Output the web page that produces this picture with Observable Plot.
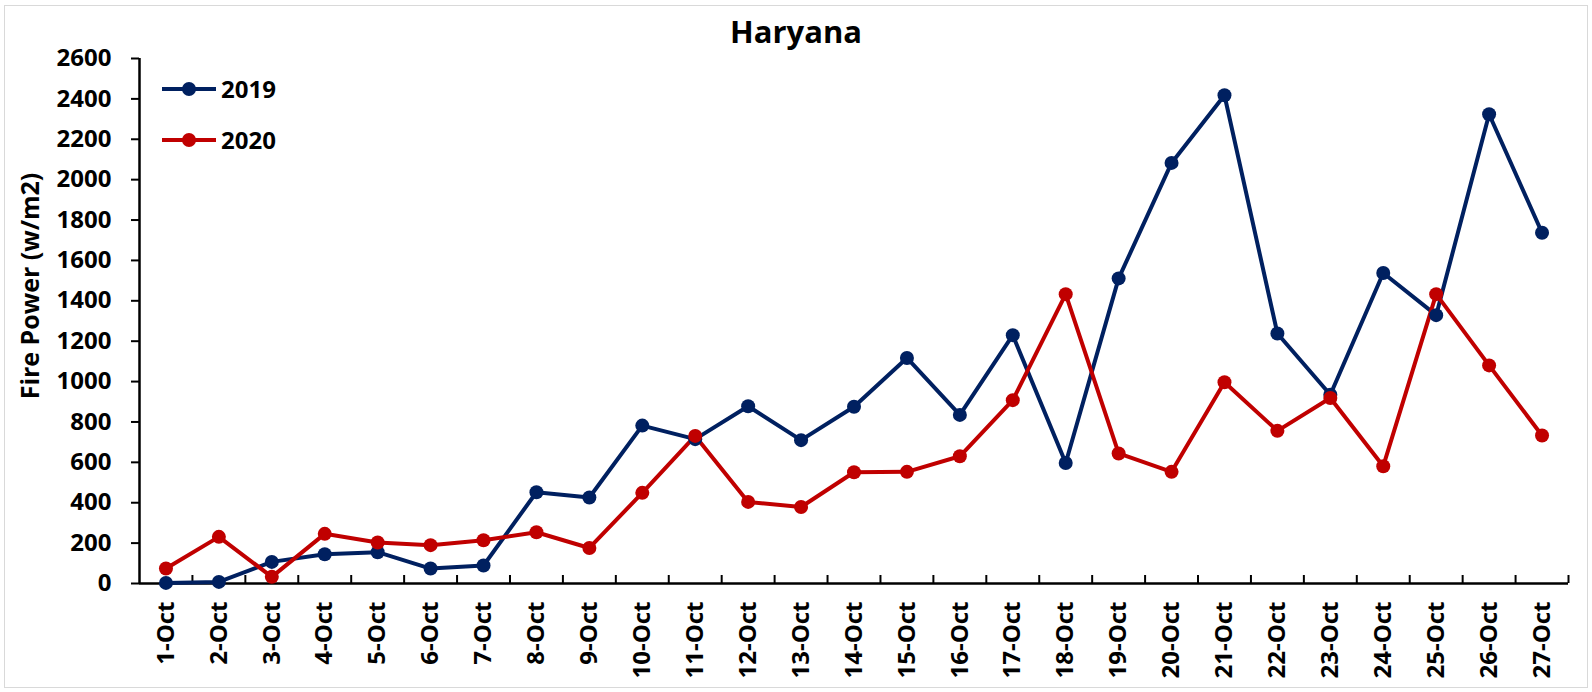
<!DOCTYPE html>
<html><head><meta charset="utf-8">
<script src="https://cdn.jsdelivr.net/npm/d3@7"></script>
<script src="https://cdn.jsdelivr.net/npm/@observablehq/plot@0.6"></script>
<style>
body{margin:0;background:#fff;font-family:"Open Sans",Lato,sans-serif;}
#wrap{position:relative;width:1592px;height:692px;overflow:hidden;}
#frame{position:absolute;left:4px;top:5px;width:1584px;height:683px;border:1px solid #d9d9d9;box-sizing:border-box;}
#title{position:absolute;left:0;top:11px;width:1592px;text-align:center;font-weight:bold;font-size:31px;line-height:40px;color:#000;}
#ylab{position:absolute;left:29px;top:286px;transform:translate(-50%,-50%) rotate(-90deg);white-space:nowrap;font-weight:bold;font-size:25px;color:#000;}
#legend{position:absolute;left:160px;top:63px;}
.item{display:flex;align-items:center;height:51px;font-weight:bold;font-size:24px;color:#000;}
.item svg{margin-right:3px;}
#chart{position:absolute;left:0;top:0;}
</style>
</head><body>
<div id="wrap">
  <div id="frame"></div>
  <div id="chart"></div>
  <div id="title"></div>
  <div id="ylab"></div>
  <div id="legend"></div>
</div>
<script>
const title = "Haryana";
const yLabel = "Fire Power (w/m2)";
const dates = ["1-Oct","2-Oct","3-Oct","4-Oct","5-Oct","6-Oct","7-Oct","8-Oct","9-Oct","10-Oct","11-Oct","12-Oct","13-Oct","14-Oct","15-Oct","16-Oct","17-Oct","18-Oct","19-Oct","20-Oct","21-Oct","22-Oct","23-Oct","24-Oct","25-Oct","26-Oct","27-Oct"];
const v2019 = [3,8,107,145,155,74,89,452,426,782,715,878,710,875,1117,835,1230,597,1511,2083,2418,1238,935,1538,1329,2324,1737];
const v2020 = [74,231,33,246,203,190,214,254,176,449,731,404,379,551,553,630,908,1433,644,553,997,756,919,581,1433,1080,733];
const yTicks = [0,200,400,600,800,1000,1200,1400,1600,1800,2000,2200,2400,2600];
const seriesNames = ["2019","2020"];
const seriesColors = ["#002060","#C00000"];

const rows = [];
dates.forEach((d,i)=>{
  rows.push({date:d, year:seriesNames[0], value:v2019[i]});
  rows.push({date:d, year:seriesNames[1], value:v2020[i]});
});

const W = 1592, H = 692, mL = 139, mR = 24, mT = 58, mB = 109;
const half = (W - mL - mR) / dates.length / 2;
const tickLen = 8 * 2600 / (H - mT - mB);

const chart = Plot.plot({
  width: W, height: H,
  marginLeft: mL, marginRight: mR, marginTop: mT, marginBottom: mB,
  style: {fontFamily: "'Open Sans', Lato, sans-serif", fontWeight: "bold", color: "#000", background: "transparent", overflow: "visible"},
  x: {type: "point", domain: dates, padding: 0.5, round: false, label: null},
  y: {domain: [0, 2600], label: null},
  color: {domain: seriesNames, range: seriesColors},
  marks: [
    Plot.axisY({ticks: yTicks, tickSize: 8, tickPadding: 20, tickFormat: d => String(d), fontSize: 24, fontWeight: "bold", strokeWidth: 2, label: null}),
    Plot.axisX({tickSize: 0, tickRotate: -90, tickPadding: 18, fontSize: 24, fontWeight: "bold", label: null}),
    Plot.ruleY([0], {stroke: "#000", strokeWidth: 2.5}),
    Plot.ruleX([dates[0]], {y1: 0, y2: 2600, dx: -half, stroke: "#000", strokeWidth: 2.5}),
    Plot.ruleX(dates.slice(1), {x: d => d, y1: 0, y2: tickLen, dx: -half, stroke: "#000", strokeWidth: 2}),
    Plot.ruleX([dates[dates.length-1]], {y1: 0, y2: tickLen, dx: half, stroke: "#000", strokeWidth: 2}),
    Plot.line(rows, {x: "date", y: "value", z: "year", stroke: "year", strokeWidth: 4}),
    Plot.dot(rows, {x: "date", y: "value", fill: "year", r: 7, stroke: "none"})
  ]
});
document.getElementById("chart").appendChild(chart);
document.getElementById("title").textContent = title;
document.getElementById("ylab").textContent = yLabel;
const leg = document.getElementById("legend");
seriesNames.forEach((n,i)=>{
  const div = document.createElement("div");
  div.className = "item";
  div.innerHTML = `<svg width="58" height="20"><line x1="2" y1="10" x2="56" y2="10" stroke="${seriesColors[i]}" stroke-width="4"/><circle cx="29" cy="10" r="7" fill="${seriesColors[i]}"/></svg><span>${n}</span>`;
  leg.appendChild(div);
});
</script>
</body></html>
